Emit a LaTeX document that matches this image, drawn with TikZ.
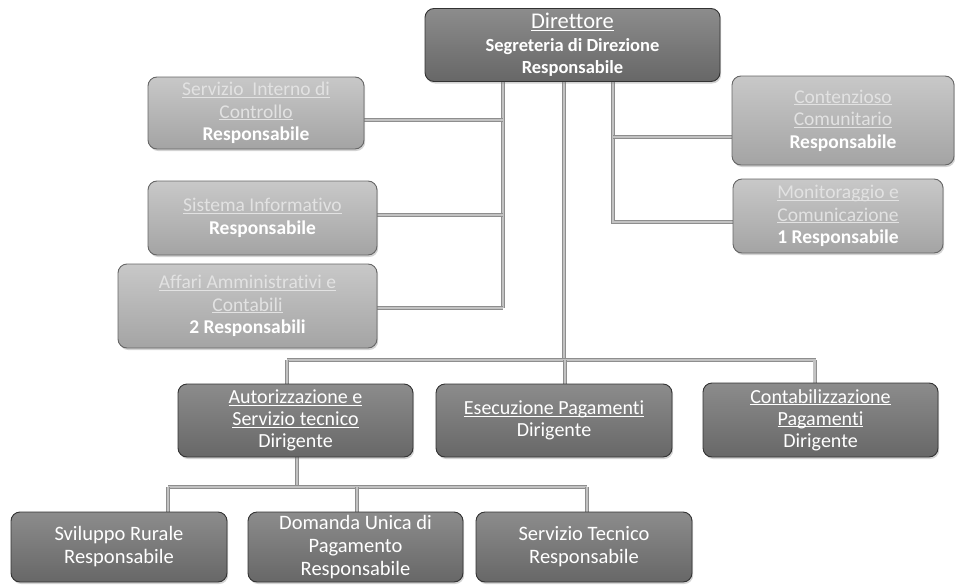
\documentclass[tikz,border=0pt]{standalone}
\usepackage{fontspec}
\setmainfont{Carlito}[Ligatures=NoCommon]
\usetikzlibrary{calc,shadows,backgrounds}
\definecolor{dkT}{HTML}{8C8C8C}
\definecolor{dkB}{HTML}{676767}
\definecolor{ltT}{HTML}{C8C8C8}
\definecolor{ltB}{HTML}{A4A4A4}
\definecolor{lttext}{HTML}{E2E2E2}
\definecolor{lnedge}{HTML}{8E8E8E}
\definecolor{lnfill}{HTML}{C2C2C2}
\newcommand\ulx[1]{\underline{\raisebox{0pt}[\height][0pt]{#1}}}
\begin{document}
\begin{tikzpicture}[x=1pt,y=-1pt,
  box/.style={rounded corners=9pt, draw=black!80, line width=0.9pt, align=center,
    inner sep=2pt, text=white, font=\fontsize{18.5}{22.5}\selectfont,
    drop shadow={opacity=0.35,shadow xshift=1.2pt,shadow yshift=-2pt}},
  darkbox/.style={box, top color=dkT, bottom color=dkB},
  midbox/.style={darkbox, font=\fontsize{20}{22}\selectfont},
  lightbox/.style={box, top color=ltT, bottom color=ltB, draw=black!60, font=\fontsize{19.5}{22.5}\selectfont},
  lowbox/.style={darkbox, font=\fontsize{20.5}{23}\selectfont},
  conn/.style={draw=lnedge, line width=0.9pt, double=lnfill, double distance=2.2pt}
]
\useasboundingbox (0,0) rectangle (955,586);

% top
\node[darkbox, minimum width=295pt, minimum height=73pt] (dir) at (572.5,45)
  {{\fontsize{22.5}{23}\selectfont\ulx{Direttore}}\\ \textbf{Segreteria di Direzione}\\ \textbf{Responsabile}};

% left staff
\node[lightbox, minimum width=216pt, minimum height=72pt] (sic) at (256,113)
  {\textcolor{lttext}{\ulx{Servizio\ \ Interno di}}\\ \textcolor{lttext}{\ulx{Controllo}}\\ \textbf{Responsabile}};
\node[lightbox, minimum width=229pt, minimum height=74pt] (si) at (262.5,218)
  {\textcolor{lttext}{\ulx{Sistema Informativo}}\\ \textbf{Responsabile}};
\node[lightbox, minimum width=259pt, minimum height=84pt] (aac) at (247.5,306)
  {\textcolor{lttext}{\ulx{Affari Amministrativi e}}\\ \textcolor{lttext}{\ulx{Contabili}}\\ \textbf{2 Responsabili}};

% right staff
\node[lightbox, minimum width=222pt, minimum height=89pt] (cc) at (843,120.5)
  {\textcolor{lttext}{\ulx{Contenzioso}}\\ \textcolor{lttext}{\ulx{Comunitario}}\\ \textbf{Responsabile}};
\node[lightbox, minimum width=210pt, minimum height=74pt] (mc) at (838,216)
  {\textcolor{lttext}{\ulx{Monitoraggio e}}\\ \textcolor{lttext}{\ulx{Comunicazione}}\\ \textbf{1 Responsabile}};

% dirigenti
\node[midbox, minimum width=235pt, minimum height=73pt] (aut) at (295.5,420.5)
  {\ulx{Autorizzazione e}\\ \ulx{Servizio tecnico}\\ Dirigente};
\node[midbox, minimum width=236pt, minimum height=73pt] (ese) at (554,420.5)
  {\ulx{Esecuzione Pagamenti}\\ Dirigente};
\node[midbox, minimum width=235pt, minimum height=74pt] (cont) at (820.5,420)
  {\ulx{Contabilizzazione}\\ \ulx{Pagamenti}\\ Dirigente};

% bottom row
\node[lowbox, minimum width=216pt, minimum height=70pt] (svr) at (119,547)
  {Sviluppo Rurale\\ Responsabile};
\node[lowbox, minimum width=215pt, minimum height=70pt] (dup) at (355.5,547)
  {Domanda Unica di\\ Pagamento\\ Responsabile};
\node[lowbox, minimum width=216pt, minimum height=70pt] (st) at (584,547)
  {Servizio Tecnico\\ Responsabile};

% bus coordinates
\coordinate (L) at (503,0);
\coordinate (M) at (564,0);
\coordinate (R) at (613,0);
\coordinate (bus) at (0,360);
\coordinate (sub) at (0,487);

\begin{pgfonlayer}{background}
  % left column
  \draw[conn] (dir.south -| L) -- ($(aac.east -| L)+(0,2)$);
  \draw[conn] ($(sic.east)+(0,7)$) -- ($(sic.east -| L)+(0,7)$);
  \draw[conn] ($(si.east)+(0,-3)$) -- ($(si.east -| L)+(0,-3)$);
  \draw[conn] ($(aac.east)+(0,2)$) -- ($(aac.east -| L)+(0,2)$);
  % right column
  \draw[conn] (dir.south -| R) -- ($(mc.west -| R)+(0,6)$) -- ($(mc.west)+(0,6)$);
  \draw[conn] ($(cc.west -| R)+(0,16.5)$) -- ($(cc.west)+(0,16.5)$);
  % main trunk
  \draw[conn] (dir.south -| M) -- (M |- bus);
  \draw[conn] ($(aut.north |- bus)+(-8.5,0)$) -- ($(cont.north |- bus)+(-5,0)$);
  \draw[conn] ($(aut.north |- bus)+(-8.5,0)$) -- ($(aut.north)+(-8.5,0)$);
  \draw[conn] ($(ese.north |- bus)+(11,0)$) -- ($(ese.north)+(11,0)$);
  \draw[conn] ($(cont.north |- bus)+(-6,0)$) -- ($(cont.north)+(-6,0)$);
  % sub tree
  \draw[conn] ($(aut.south)+(1.5,0)$) -- ($(aut.south |- sub)+(1.5,0)$);
  \draw[conn] ($(svr.north |- sub)+(49,0)$) -- ($(st.north |- sub)+(3,0)$);
  \draw[conn] ($(svr.north |- sub)+(49,0)$) -- ($(svr.north)+(49,0)$);
  \draw[conn] ($(dup.north |- sub)+(1.5,0)$) -- ($(dup.north)+(1.5,0)$);
  \draw[conn] ($(st.north |- sub)+(3,0)$) -- ($(st.north)+(3,0)$);
\end{pgfonlayer}
\end{tikzpicture}
\end{document}
